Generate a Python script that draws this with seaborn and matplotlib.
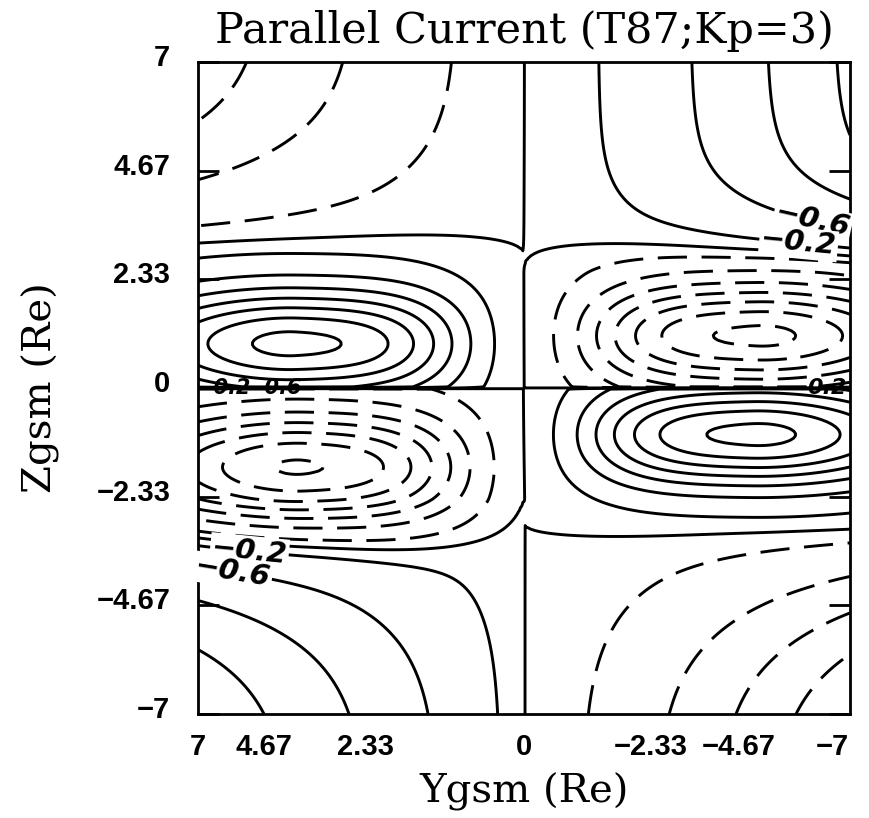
import numpy as np
import matplotlib
matplotlib.use("Agg")
import matplotlib.pyplot as plt
import matplotlib.transforms as mtransforms
import seaborn as sns

# ---- data ----
title_text = "Parallel Current (T87;Kp=3)"
x_label = "Ygsm (Re)"
y_label = "Zgsm (Re)"
tick_values = [7, 4.67, 2.33, 0, -2.33, -4.67, -7]
tick_labels = ["7", "4.67", "2.33", "0", "\u22122.33", "\u22124.67", "\u22127"]

# quadrants: upper-left, upper-right, lower-left, lower-right (Ygsm axis reversed)
quad_ysign = [1, -1, 1, -1]
quad_zsign = [1, 1, -1, -1]
lobe_yc = [4.9, 5.0, 4.7, 4.9]       # |Ygsm| of lobe centre
lobe_zc = [0.95, 1.12, 1.7, 1.0]     # |Zgsm| of lobe centre
lobe_amp = [-2.75, 2.72, 2.68, -2.75]
lobe_wz = [1.2, 1.15, 1.2, 1.1]
far_amp = [1.35, -1.5, -1.9, 2.1]
far_pow = [1.2, 1.36, 0.85, 1.35]
far_z0 = [2.9, 2.5, 2.4, 2.9]
far_len = [3.5, 2.2, 4.0, 4.0]

levels = [-2.6, -2.2, -1.8, -1.4, -1.0, -0.6, -0.2, 0.0,
          0.2, 0.6, 1.0, 1.4, 1.8, 2.2, 2.6]

label_levels = [-0.6, -0.2, -0.2, -0.6, -0.2, -0.6, 0.2]
label_y = [-6.25, -5.9, 5.8, 6.2, 6.45, 5.35, -6.5]
label_z = [3.9, 3.2, -2.75, -3.6, 0.15, 0.3, 0.25]
label_size = [21, 21, 21, 21, 15, 15, 16]
label_boxed = [True, True, True, True, False, False, False]

# ---- field on a grid ----
yy = np.linspace(-7, 7, 280)
zz = np.linspace(-7, 7, 280)
Y, Z = np.meshgrid(yy, zz)
F = np.zeros_like(Y)
ay, az = np.abs(Y), np.abs(Z)
for i in range(4):
    m = (np.sign(Y) == quad_ysign[i]) & (np.sign(Z) == quad_zsign[i])
    gx = (1 - np.exp(-(ay / 2.3) ** 2)) * np.exp(-(np.clip(ay - lobe_yc[i], 0, None) / 4.0) ** 2)
    lobe = lobe_amp[i] * gx * np.exp(-((az - lobe_zc[i]) / lobe_wz[i]) ** 2)
    t = np.clip(az - far_z0[i], 0, None) / far_len[i]
    ramp = t / (1 + t ** 4) ** 0.25
    far = far_amp[i] * (ay / 7) ** far_pow[i] * ramp
    F[m] = (lobe + far)[m]

# ---- plot ----
sns.set_theme(style="white")
plt.rcParams["font.family"] = ["DejaVu Serif"]
fig = plt.figure(figsize=(8.7, 8.18), dpi=100)
ax = fig.add_axes([198 / 870, 1 - 714 / 818, 652 / 870, 652 / 818])

styles = ["solid" if v <= 0 else (0, (10, 5)) for v in levels]
cs = ax.contour(Y, Z, F, levels=levels, colors="black", linewidths=2.1, linestyles=styles)

ax.set_xlim(7, -7)
ax.set_ylim(-7, 7)
fig.canvas.draw()
# contour labels placed on the nearest vertex of the chosen level
for lev, py, pz, fs, boxed in zip(label_levels, label_y, label_z, label_size, label_boxed):
    k = int(np.argmin(np.abs(np.array(cs.levels) - lev)))
    segs = [s for s in cs.allsegs[k] if len(s) > 2]
    if not segs:
        continue
    best = None
    for s in segs:
        d = (s[:, 0] - py) ** 2 + (s[:, 1] - pz) ** 2
        j = int(np.argmin(d))
        if best is None or d[j] < best[0]:
            best = (d[j], s, j)
    _, s, j = best
    j0, j1 = max(j - 3, 0), min(j + 3, len(s) - 1)
    p0 = ax.transData.transform(s[j0])
    p1 = ax.transData.transform(s[j1])
    ang = np.degrees(np.arctan2(p1[1] - p0[1], p1[0] - p0[0]))
    if ang > 90:
        ang -= 180
    if ang < -90:
        ang += 180
    txt = f"{lev:.1f}".replace("-", "\u2212")
    kw = dict(bbox=dict(boxstyle="square,pad=0.05", fc="white", ec="none")) if boxed else {}
    ax.text(s[j, 0], s[j, 1], txt, rotation=ang, rotation_mode="anchor",
            ha="center", va="center", fontsize=fs, fontstyle="italic", fontweight="bold",
            family="DejaVu Sans", color="black", zorder=5, **kw)

ax.set_xticks(tick_values)
ax.set_xticklabels(tick_labels)
ax.set_yticks(tick_values)
ax.set_yticklabels(tick_labels)
for lab in ax.get_xticklabels() + ax.get_yticklabels():
    lab.set_fontfamily("Liberation Sans")
    lab.set_fontweight("bold")
    lab.set_fontsize(21)
    lab.set_color("black")
ax.tick_params(axis="y", direction="in", length=15, width=2.0, left=True, right=True, pad=20, color="black")
ax.tick_params(axis="x", length=0, pad=14)

# small visual offsets of the tick labels as printed in the reference
x_label_dx = [0, -43, -50, 0, 18, -3, -18]
for lab, dx in zip(ax.get_xticklabels(), x_label_dx):
    lab.set_transform(lab.get_transform() + mtransforms.ScaledTranslation(dx / 100, 0, fig.dpi_scale_trans))
for lab in ax.get_yticklabels():
    lab.set_transform(lab.get_transform() + mtransforms.ScaledTranslation(0, 7 / 100, fig.dpi_scale_trans))

for s in ax.spines.values():
    s.set_linewidth(2.0)
    s.set_color("black")

ax.set_title(title_text, fontsize=31, pad=14, color="black")
ax.set_xlabel(x_label, fontsize=29, labelpad=8, color="black")
ax.set_ylabel(y_label, fontsize=29, labelpad=26, color="black")

fig.savefig("out.png", dpi=100, facecolor="white")
